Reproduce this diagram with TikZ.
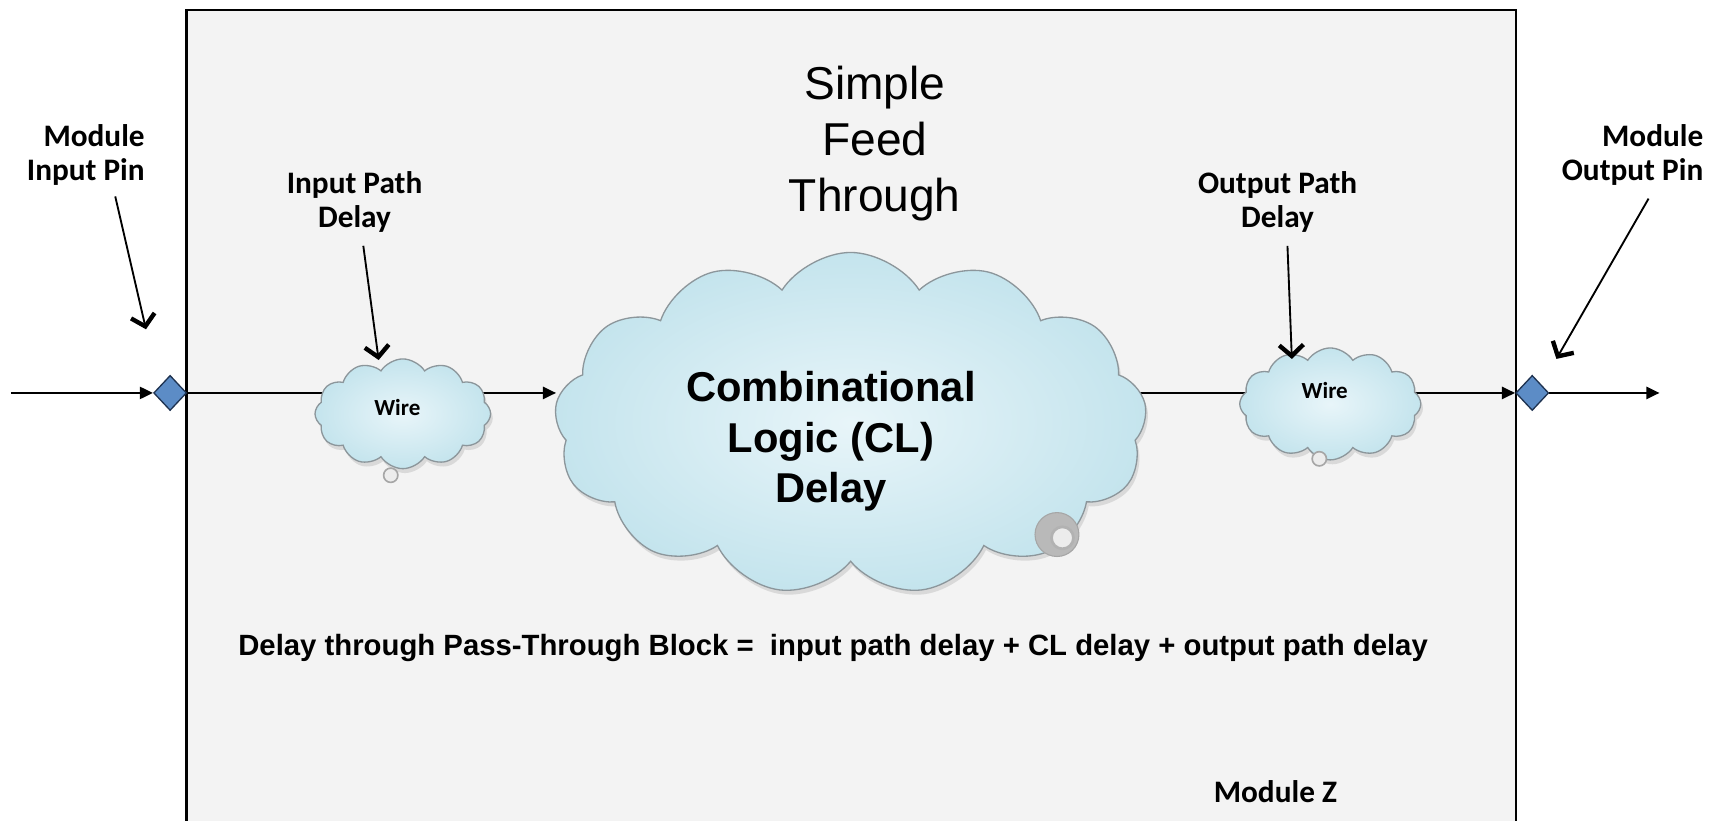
\documentclass[tikz,border=0pt]{standalone}
\usepackage{fontspec}
\setmainfont{Liberation Sans}
\newfontfamily\calib{Carlito}
\usetikzlibrary{shapes.symbols,shapes.geometric,arrows.meta,shadows}
\pgfdeclarelayer{bg}
\pgfdeclarelayer{mid}
\pgfsetlayers{bg,mid,main}
\definecolor{boxgray}{RGB}{243,243,243}
\definecolor{pinblue}{RGB}{92,140,198}
\definecolor{pinedge}{RGB}{30,50,80}
\definecolor{cloudin}{RGB}{232,245,249}
\definecolor{cloudout}{RGB}{196,228,237}
\definecolor{cloudedge}{RGB}{140,150,155}
\begin{document}
\begin{tikzpicture}[x=1pt,y=-1pt,
  cloudbox/.style={cloud, cloud puffs=#1, cloud puff arc=115, cloud ignores aspect,
    draw=cloudedge, line width=1.2pt, inner color=cloudin, outer color=cloudout,
    inner sep=0pt, drop shadow={opacity=0.22, shadow xshift=2pt, shadow yshift=-4pt}},
  pinmark/.style={diamond, draw=pinedge, fill=pinblue, line width=1.2pt,
    minimum width=30pt, minimum height=32pt, inner sep=0pt},
  flow/.style={line width=2.1pt, -{Triangle[length=12pt,width=11pt]}},
  wireline/.style={line width=2.1pt},
  ptr/.style={line width=1.7pt, -{Straight Barb[length=10pt,width=22pt,line width=4pt]}},
  lbl/.style={font={\calib\bfseries\fontsize{28.5}{31}\selectfont}, inner sep=0pt},
  wirelbl/.style={font={\calib\bfseries\fontsize{21}{24}\selectfont}, inner sep=0pt},
  ring/.style={circle, draw=gray!70, line width=1.5pt, fill=white!85!gray, inner sep=0pt}
]
\useasboundingbox (0,0) rectangle (1568,748);
\begin{pgfonlayer}{bg}
  \fill[white] (0,0) rectangle (1568,748);
  \fill[boxgray] (170,9) rectangle (1381,748);
  \draw[line width=2pt] (170,748) -- (170,9) -- (1381,9) -- (1381,748);
\end{pgfonlayer}

% title
\node[align=center, font=\fontsize{42}{51}\selectfont, inner sep=0pt] (title) at (797,131) {Simple\\Feed\\Through};

% pins
\node[pinmark] (pin1) at (155,358) {};
\node[pinmark] (pin2) at (1396,358) {};
\coordinate (inL) at (10,358);
\coordinate (outR) at (1512,358);

% clouds
\node[cloudbox=12, minimum width=160pt, minimum height=100pt] (w1) at (367,377) {};
\node[ring, minimum size=13pt] (b1) at (356,433) {};
\node[cloudbox=13, minimum width=540pt, minimum height=312pt] (cl) at (775,386) {};
\node[circle, fill=gray!55, draw=gray!70, line width=1pt, minimum size=40pt, inner sep=0pt] (b2) at (963,487) {};
\node[ring, minimum size=20pt, line width=2.5pt, draw=gray!60] (b2i) at (968,490) {};
\node[cloudbox=12, minimum width=165pt, minimum height=102pt] (w2) at (1212,368) {};
\node[ring, minimum size=13pt] (b3) at (1202,418) {};

% texts
\node[wirelbl] (w1t) at (362,371) {Wire};
\node[wirelbl] (w2t) at (1207,356) {Wire};
\node[align=center, font={\bfseries\fontsize{38}{46}\selectfont}, inner sep=0pt] (clt) at (757,402) {Combinational\\Logic (CL)\\Delay};
\node[font={\bfseries\fontsize{26.7}{30}\selectfont}, inner sep=0pt] (eqn) at (759,590) {Delay through Pass-Through Block =\ \ input path delay + CL delay + output path delay};
\node[lbl] (modz) at (1162,721) {Module Z};

\node[lbl, align=right, anchor=east] (inpin) at (132,141) {Module\\Input Pin};
\node[lbl, align=center] (inpd) at (323,184) {Input Path\\Delay};
\node[lbl, align=center] (outpd) at (1164,184) {Output Path\\Delay};
\node[lbl, align=right, anchor=east] (outpin) at (1552,141) {Module\\Output Pin};

\coordinate (tipA) at (133,300);
\coordinate (tipB) at (345,328);
\coordinate (tipC) at (1177,327);
\coordinate (tipD) at (1418,327);

% connectors
\begin{pgfonlayer}{mid}
  \draw[flow] (inL) -- (pin1.west);
  \draw[wireline] (pin1.east) -- (pin1 -| w1.center);
  \draw[flow] (pin1 -| w1.center) -- (pin1 -| cl.west);
  \draw[wireline] (pin1 -| cl.center) -- (pin1 -| w2.center);
  \draw[flow] (pin1 -| w2.center) -- (pin2.west);
  \draw[flow] (pin2.east) -- (outR);
\end{pgfonlayer}

\draw[ptr] (inpin.south east) ++(-27,10) -- (tipA);
\draw[ptr] (inpd.south) ++(8,12) -- (tipB);
\draw[ptr] (outpd.south) ++(9,12) -- (tipC);
\draw[ptr] (outpin.south east) ++(-50,12) -- (tipD);
\end{tikzpicture}
\end{document}
